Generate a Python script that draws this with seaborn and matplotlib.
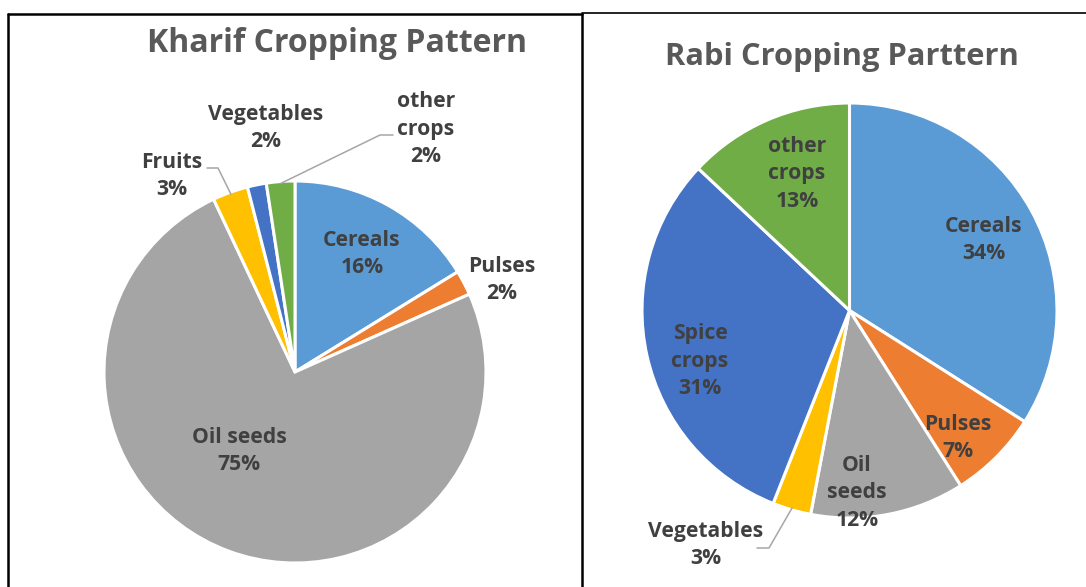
import numpy as np
import pandas as pd
import seaborn as sns
import matplotlib.pyplot as plt
from matplotlib.lines import Line2D

# Data
kharif_crops = ["Cereals", "Pulses", "Oil seeds", "Fruits", "Vegetables", "other crops"]
kharif_share = [16.2, 2.1, 74.6, 3.0, 1.6, 2.4]
kharif_text = ["Cereals", "Pulses", "Oil seeds", "Fruits", "Vegetables", "other\ncrops"]

rabi_crops = ["Cereals", "Pulses", "Oil seeds", "Vegetables", "Spice crops", "other crops"]
rabi_share = [34, 7, 12, 3, 31, 13]
rabi_text = ["Cereals", "Pulses", "Oil\nseeds", "Vegetables", "Spice\ncrops", "other\ncrops"]

kharif_colors = ["#5B9BD5", "#ED7D31", "#A5A5A5", "#FFC000", "#4472C4", "#70AD47"]
rabi_colors = ["#5B9BD5", "#ED7D31", "#A5A5A5", "#FFC000", "#4472C4", "#70AD47"]

sns.set_theme(style="white")
plt.rcParams["font.family"] = ["Open Sans", "DejaVu Sans"]

W, H = 1086, 587
fig = plt.figure(figsize=(W / 100, H / 100), dpi=100)
fig.patch.set_facecolor("white")


def pie_axes(cx, cy, r):
    ax = fig.add_axes([(cx - r) / W, (H - cy - r) / H, 2 * r / W, 2 * r / H])
    return ax


def to_data(px, py, cx, cy, r):
    return (px - cx) / r, (cy - py) / r


def draw(ax, shares, colors, texts, label_px, leaders, cx, cy, r):
    df = pd.DataFrame({"share": shares, "text": texts})
    wedges, _ = ax.pie(df["share"], colors=sns.color_palette(colors),
                       startangle=90, counterclock=False,
                       wedgeprops=dict(edgecolor="white", linewidth=2.2))
    ax.set_xlim(-1, 1)
    ax.set_ylim(-1, 1)
    ax.set_aspect("equal")
    ax.axis("off")
    total = df["share"].sum()
    for i, row in df.iterrows():
        pct = f"{row['share'] / total * 100:.0f}%"
        x, y = to_data(*label_px[i], cx, cy, r)
        ax.text(x, y, f"{row['text']}\n{pct}", ha="center", va="center",
                fontsize=15.2, fontweight="bold", color="#404040",
                linespacing=1.42, clip_on=False)
        if i in leaders:
            w = wedges[i]
            mid = np.deg2rad((w.theta1 + w.theta2) / 2)
            (sx, sy), (kx, ky) = leaders[i]
            p0 = to_data(sx, sy, cx, cy, r)
            p1 = to_data(kx, ky, cx, cy, r)
            ax.plot([p0[0], p1[0], np.cos(mid) * 0.99], [p0[1], p1[1], np.sin(mid) * 0.99],
                    color="#A6A6A6", lw=1.1, clip_on=False)


# Kharif
kcx, kcy, kr = 295, 372, 191
ax1 = pie_axes(kcx, kcy, kr)
kharif_label_px = [(362, 254), (502, 280), (239, 451), (172, 176), (266, 128), (426, 129)]
kharif_leaders = {3: ((207, 168), (218, 168)), 5: ((393, 135), (380, 135))}
draw(ax1, kharif_share, kharif_colors, kharif_text, kharif_label_px, kharif_leaders, kcx, kcy, kr)

# Rabi
rcx, rcy, rr = 849.5, 310.5, 207.5
ax2 = pie_axes(rcx, rcy, rr)
rabi_label_px = [(984, 240), (958, 438), (857, 493), (706, 545), (700, 361), (797, 174)]
rabi_leaders = {3: ((757, 548), (769, 548))}
draw(ax2, rabi_share, rabi_colors, rabi_text, rabi_label_px, rabi_leaders, rcx, rcy, rr)

fig.text(337 / W, 1 - 43 / H, "Kharif Cropping Pattern", ha="center", va="center",
         fontsize=23, fontweight="bold", color="#595959")
fig.text(842 / W, 1 - 57 / H, "Rabi Cropping Parttern", ha="center", va="center",
         fontsize=22.2, fontweight="bold", color="#595959")

# panel borders
def fline(x0, y0, x1, y1, lw):
    fig.add_artist(Line2D([x0 / W, x1 / W], [1 - y0 / H, 1 - y1 / H],
                          transform=fig.transFigure, color="black", lw=lw))

fline(8, 14, 8, H, 1.8)
fline(8, 14, 582, 14, 1.8)
fline(582, 14, 582, H, 1.8)
fline(582, 12.5, W, 12.5, 1.2)

plt.savefig("out.png", dpi=100)
